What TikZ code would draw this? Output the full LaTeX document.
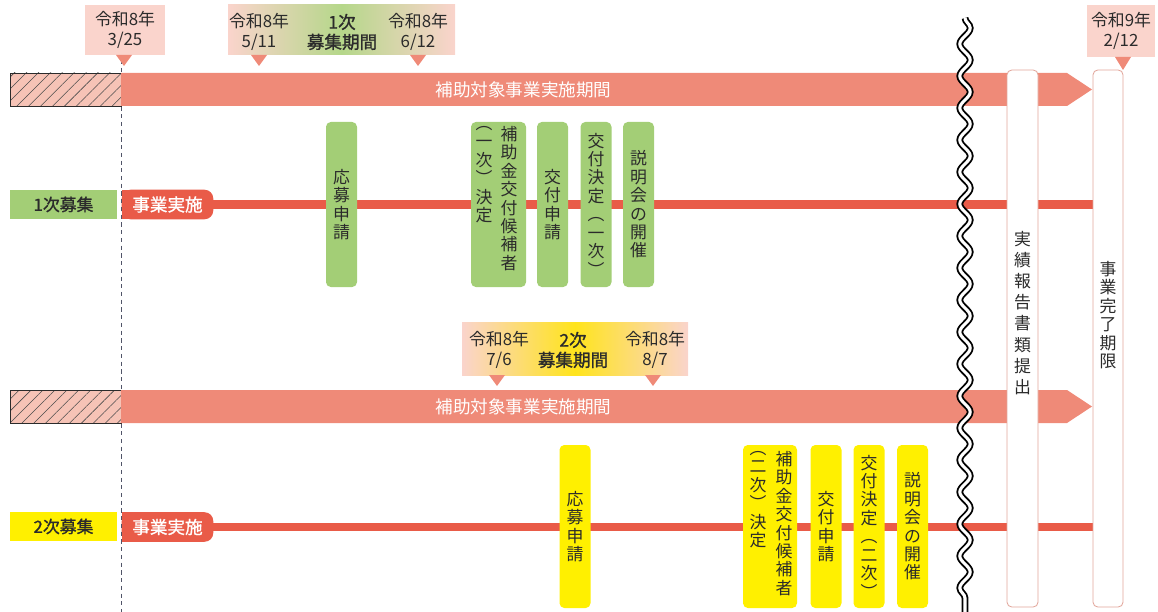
\documentclass[tikz,border=0pt]{standalone}
\usepackage{fontspec}
\setmainfont{Noto Sans CJK JP}
\newfontfamily\jpbold[FakeBold=1.2]{Noto Sans CJK JP}
\usetikzlibrary{positioning,backgrounds,patterns.meta,decorations.pathmorphing}

\definecolor{barsalmon}{HTML}{EF8A78}
\definecolor{rowred}{HTML}{E95B48}
\definecolor{callpink}{HTML}{FAD4CC}
\definecolor{callgreen}{HTML}{B5D78A}
\definecolor{callyellow}{HTML}{FFE41C}
\definecolor{stepgreen}{HTML}{A3CE76}
\definecolor{stepyellow}{HTML}{FFF000}
\definecolor{hatchpink}{HTML}{F6C3B6}
\definecolor{boxedge}{HTML}{E2A69B}
\definecolor{guidegray}{HTML}{505468}
\definecolor{inkgray}{HTML}{2B2B2B}

\tikzset{
  datebox/.style={fill=callpink, inner sep=0pt, text=inkgray, align=center,
    font=\fontsize{12pt}{14.2pt}\selectfont},
  datetxt/.style={text=inkgray, align=center, inner sep=0pt,
    font=\fontsize{12pt}{14.2pt}\selectfont},
  termtxt/.style={datetxt, font=\jpbold\fontsize{12.5pt}{14.2pt}\selectfont},
  datepin/.style={fill=barsalmon},
  bartxt/.style={text=white, inner sep=0pt, font=\fontsize{12.5pt}{14pt}\selectfont},
  hatchbox/.style={draw=inkgray, line width=0.5pt,
    pattern={Lines[angle=45, distance=6pt, line width=0.4pt]}, pattern color=inkgray!85},
  rowlabel/.style={inner sep=0pt, minimum width=26.75mm, minimum height=7mm,
    text=inkgray, font=\jpbold\fontsize{12pt}{14pt}\selectfont},
  tabtxt/.style={inner sep=0pt, minimum width=22.75mm, minimum height=7.25mm,
    text=white, font=\jpbold\fontsize{12.5pt}{14pt}\selectfont},
  rowline/.style={rowred, line width=2.2mm},
  stepbox/.style={rounded corners=1.2mm, inner sep=0pt, minimum width=7.75mm,
    text=inkgray, align=center, font=\fontsize{12pt}{13.1pt}\selectfont},
  stepg/.style={stepbox, fill=stepgreen, minimum height=41.25mm},
  stepy/.style={stepbox, fill=stepyellow, minimum height=40.75mm},
  coltxt/.style={anchor=north, inner sep=0pt, text=inkgray, align=center,
    font=\fontsize{12pt}{13.1pt}\selectfont},
  endbox/.style={draw=boxedge, fill=white, line width=0.6pt, rounded corners=1.2mm,
    minimum width=7.75mm, minimum height=134.25mm, inner sep=0pt},
  endtxt/.style={inner sep=0pt, text=inkgray, align=center},
  breakline/.style={decorate, decoration={snake, segment length=8mm, amplitude=1.3mm},
    draw=black, line width=1.3pt, double=white, double distance=2.2pt}
}

\begin{document}
\begin{tikzpicture}[x=0.25mm, y=-0.25mm]
\useasboundingbox (0,0) rectangle (1158,612);

% start of the period
\draw[guidegray, line width=0.5pt, dash pattern=on 3pt off 2.5pt] (121,60) -- (121,612);

% dates on top
\node[datebox, minimum width=20mm, minimum height=12.5mm] (d325) at (125,30) {令和8年\\3/25};
\fill[datepin] (116,55) -- (132,55) -- (124,66) -- cycle;

\node[datebox, minimum width=56.75mm, minimum height=12.5mm,
  left color=callpink, right color=callpink, middle color=callgreen] (term1) at (341.5,30) {};
\node[datetxt] (d511) at (259,32) {令和8年\\5/11};
\node[termtxt] (term1t) at (342,32) {1次\\募集期間};
\node[datetxt] (d612) at (418,32) {令和8年\\6/12};
\fill[datepin] (251,55) -- (267,55) -- (259,66) -- cycle;
\fill[datepin] (410,55) -- (426,55) -- (418,66) -- cycle;

\node[datebox, minimum width=17mm, minimum height=13mm] (d212) at (1121,31) {令和9年\\2/12};
\fill[datepin] (1115,57) -- (1131,57) -- (1123,70) -- cycle;

\node[datebox, minimum width=56.5mm, minimum height=13.25mm,
  left color=callpink, right color=callpink, middle color=callyellow] (term2) at (575,348.5) {};
\node[datetxt] (d706) at (499,350) {令和8年\\7/6};
\node[termtxt] (term2t) at (573,350) {2次\\募集期間};
\node[datetxt] (d807) at (655,350) {令和8年\\8/7};
\fill[datepin] (489,375) -- (505,375) -- (497,386) -- cycle;
\fill[datepin] (645,375) -- (661,375) -- (653,386) -- cycle;

% period bars
\fill[hatchpink] (10,73) rectangle (121,106);
\draw[hatchbox] (10,73) rectangle (121,106);
\fill[barsalmon] (121,73) -- (1067,73) -- (1092,89.5) -- (1067,106) -- (121,106) -- cycle;
\node[bartxt] (bar1) at (523.5,89.5) {補助対象事業実施期間};

\fill[hatchpink] (10,390) rectangle (121,423);
\draw[hatchbox] (10,390) rectangle (121,423);
\fill[barsalmon] (121,390) -- (1067,390) -- (1092,406.5) -- (1067,423) -- (121,423) -- cycle;
\node[bartxt] (bar2) at (523.5,406.5) {補助対象事業実施期間};

% break
\draw[breakline] (965,18) -- (965,612);

% closing boxes
\node[endbox] (report) at (1022.5,338.5) {};
\node[endtxt, font=\fontsize{12pt}{15pt}\selectfont] (reportt) at (1022.5,313)
  {実\\績\\報\\告\\書\\類\\提\\出};
\node[endbox, minimum width=7.5mm] (done) at (1108,338.5) {};
\node[endtxt, font=\fontsize{12pt}{13.1pt}\selectfont] (donet) at (1108,315)
  {事\\業\\完\\了\\期\\限};

% row 1
\node[rowlabel, fill=stepgreen] (round1) at (63.5,204.5) {1次募集};
\node[tabtxt] (tab1) at (167.5,204.5) {事業実施};

\node[stepg] (apply1) at (341.5,204.5) {応\\募\\申\\請};
\node[stepg, minimum width=13.75mm] (cand1) at (498.5,204.5) {};
\node[coltxt] (cand1r) at (509,126) {補\\助\\金\\交\\付\\候\\補\\者};
\node[coltxt] (cand1l) at (484,126) {︵\\一\\次\\︶\\決\\定};
\node[stepg] (grant1) at (552.5,204.5) {交\\付\\申\\請};
\node[stepg] (decide1) at (596,204.5) {交\\付\\決\\定\\︵\\一\\次\\︶};
\node[stepg] (brief1) at (638.5,204.5) {説\\明\\会\\の\\開\\催};

% row 2
\node[rowlabel, fill=stepyellow, minimum height=7.25mm] (round2) at (63.5,526.5) {2次募集};
\node[tabtxt] (tab2) at (167.5,527) {事業実施};

\node[stepy] (apply2) at (575,526.5) {応\\募\\申\\請};
\node[stepy, minimum width=13.5mm] (cand2) at (770,526.5) {};
\node[coltxt] (cand2r) at (784,451) {補\\助\\金\\交\\付\\候\\補\\者};
\node[coltxt] (cand2l) at (758,451) {︵\\二\\次\\︶\\決\\定};
\node[stepy] (grant2) at (826,526.5) {交\\付\\申\\請};
\node[stepy] (decide2) at (869,526.5) {交\\付\\決\\定\\︵\\二\\次\\︶};
\node[stepy] (brief2) at (912.5,526.5) {説\\明\\会\\の\\開\\催};

\begin{scope}[on background layer]
  \fill[rowred, rounded corners=2.2mm] (tab1.north west) rectangle (tab1.south east);
  \fill[rowred] (tab1.north west) rectangle ([xshift=5mm]tab1.south west);
  \draw[rowline] (tab1.east) -- (tab1.east -| done.west);
  \fill[rowred, rounded corners=2.2mm] (tab2.north west) rectangle (tab2.south east);
  \fill[rowred] (tab2.north west) rectangle ([xshift=5mm]tab2.south west);
  \draw[rowline] (tab2.east) -- (tab2.east -| done.west);
\end{scope}
\end{tikzpicture}
\end{document}
